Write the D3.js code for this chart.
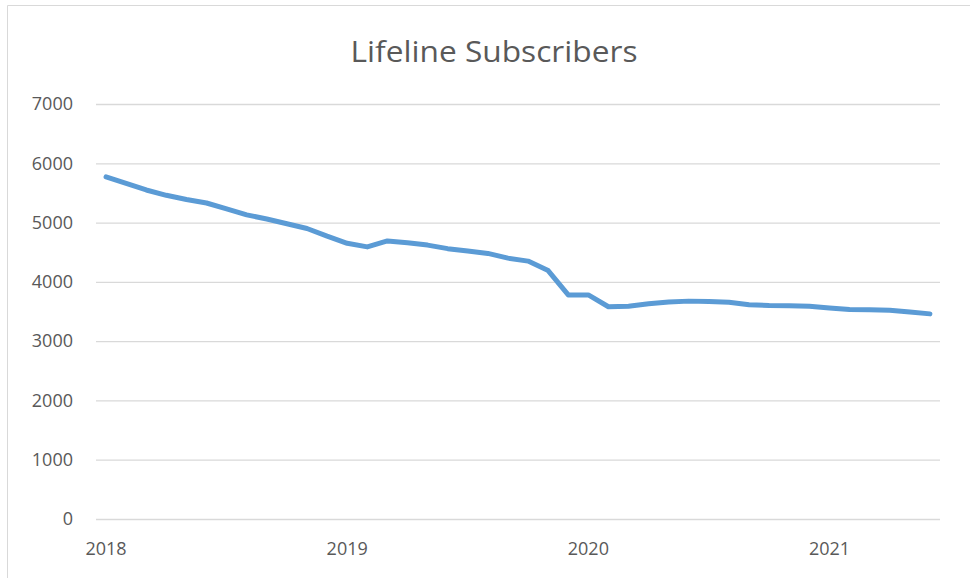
<!DOCTYPE html>
<html>
<head>
<meta charset="utf-8">
<script src="https://cdn.jsdelivr.net/npm/d3@7"></script>
<style>
  html, body { margin: 0; padding: 0; background: #fff; }
  svg { display: block; }
  text { font-family: "Open Sans", "Noto Sans", sans-serif; fill: #595959; }
</style>
</head>
<body>
<svg id="chart" width="970" height="578"></svg>
<script>
const title = "Lifeline Subscribers";
const months = [
  "2018-01","2018-02","2018-03","2018-04","2018-05","2018-06","2018-07","2018-08","2018-09","2018-10","2018-11","2018-12",
  "2019-01","2019-02","2019-03","2019-04","2019-05","2019-06","2019-07","2019-08","2019-09","2019-10","2019-11","2019-12",
  "2020-01","2020-02","2020-03","2020-04","2020-05","2020-06","2020-07","2020-08","2020-09","2020-10","2020-11","2020-12",
  "2021-01","2021-02","2021-03","2021-04","2021-05","2021-06"
];
const subscribers = [
  5770, 5660, 5550, 5460, 5390, 5330, 5230, 5130, 5060, 4980, 4900, 4770,
  4650, 4590, 4690, 4660, 4620, 4560, 4520, 4480, 4400, 4350, 4190, 3780,
  3780, 3580, 3590, 3630, 3660, 3675, 3670, 3655, 3615, 3600, 3595, 3590,
  3560, 3535, 3530, 3520, 3490, 3460
];
const yTicks = [0, 1000, 2000, 3000, 4000, 5000, 6000, 7000];
const xTickLabels = {"2018-01": "2018", "2019-01": "2019", "2020-01": "2020", "2021-01": "2021"};

const svg = d3.select("#chart");
const plot = { left: 96, right: 940, top: 104, bottom: 519 };

// chart border (left and top visible)
svg.append("path")
  .attr("d", "M7.5,578 L7.5,5.5 L970,5.5")
  .attr("fill", "none").attr("stroke", "#d9d9d9").attr("stroke-width", 1);

svg.append("text")
  .attr("x", 494).attr("y", 62)
  .attr("text-anchor", "middle")
  .attr("textLength", 287)
  .attr("lengthAdjust", "spacingAndGlyphs")
  .style("font-size", "29px")
  .text(title);

const x = d3.scaleBand().domain(months).range([plot.left, plot.right]).padding(0);
const y = d3.scaleLinear().domain([0, 7000]).range([plot.bottom, plot.top]);

// gridlines + y labels
const yAxis = d3.axisLeft(y).tickValues(yTicks).tickSize(-(plot.right - plot.left)).tickPadding(23).tickFormat(d3.format("d"));
const gy = svg.append("g").attr("transform", `translate(${plot.left},0)`).call(yAxis);
gy.select(".domain").remove();
gy.selectAll(".tick line").attr("stroke", "#d9d9d9").attr("stroke-width", 1.3);
gy.selectAll(".tick text").style("font-size", "18px").attr("fill", "#595959").attr("font-family", null);

// x labels
const xAxis = d3.axisBottom(x).tickValues(Object.keys(xTickLabels)).tickSize(0).tickPadding(23).tickFormat(d => xTickLabels[d]);
const gx = svg.append("g").attr("transform", `translate(0,${plot.bottom})`).call(xAxis);
gx.select(".domain").remove();
gx.selectAll(".tick text").style("font-size", "18px").attr("fill", "#595959").attr("font-family", null);

// line
const line = d3.line()
  .x((d, i) => x(months[i]) + x.bandwidth() / 2)
  .y(d => y(d));
svg.append("path")
  .datum(subscribers)
  .attr("fill", "none")
  .attr("stroke", "#5b9bd5")
  .attr("stroke-width", 5)
  .attr("stroke-linejoin", "round")
  .attr("stroke-linecap", "round")
  .attr("d", line);
</script>
</body>
</html>
